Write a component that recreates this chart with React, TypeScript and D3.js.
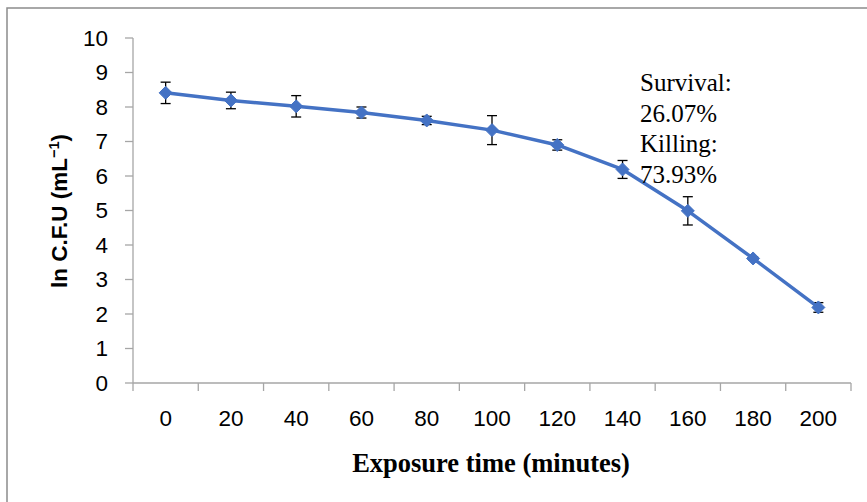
import React from "react";
import * as d3 from "d3";

const categories = ["0", "20", "40", "60", "80", "100", "120", "140", "160", "180", "200"];
const values = [8.41, 8.19, 8.02, 7.84, 7.61, 7.33, 6.9, 6.19, 4.99, 3.61, 2.19];
const errors = [0.31, 0.24, 0.31, 0.16, 0.12, 0.42, 0.15, 0.26, 0.41, 0.05, 0.14];
const yTicks = [0, 1, 2, 3, 4, 5, 6, 7, 8, 9, 10];
const annotation = ["Survival:", "26.07%", "Killing:", "73.93%"];

const W = 867;
const H = 502;
const left = 133;
const right = 851;
const top = 38;
const bottom = 383;

export default function App() {
  const x = d3.scaleBand<string>().domain(categories).range([left, right]).padding(0);
  const y = d3.scaleLinear().domain([0, 10]).range([bottom, top]);
  const cx = (c: string) => (x(c) as number) + x.bandwidth() / 2;
  const line = d3
    .line<number>()
    .x((_, i) => cx(categories[i]))
    .y((v) => y(v));
  const blue = "#4472C4";
  const axisColor = "#A6A6A6";
  const boundaries = d3.range(categories.length + 1).map((k) => left + k * x.bandwidth());
  const dSize = 6.5;
  const capHalf = 5;

  return (
    <svg
      width={W}
      height={H}
      style={{ position: "absolute", left: 0, top: 0, display: "block", background: "#fff" }}
    >
      <rect x={7} y={8} width={W + 20} height={H + 20} fill="#fff" stroke="#8c8c8c" strokeWidth={1.5} />
      {/* y axis */}
      <line x1={left} x2={left} y1={top} y2={bottom} stroke={axisColor} strokeWidth={1.3} />
      {yTicks.map((t) => (
        <g key={"y" + t}>
          <line x1={left - 8} x2={left} y1={y(t)} y2={y(t)} stroke={axisColor} strokeWidth={1.3} />
          <text
            x={108}
            y={y(t)}
            dy="0.35em"
            textAnchor="end"
            fontFamily="'Liberation Sans', Arial, sans-serif"
            fontSize={22.5}
            fill="#000"
          >
            {t}
          </text>
        </g>
      ))}
      {/* x axis */}
      <line x1={left} x2={right} y1={bottom} y2={bottom} stroke={axisColor} strokeWidth={1.3} />
      {boundaries.map((b, i) => (
        <line key={"xb" + i} x1={b} x2={b} y1={bottom} y2={bottom + 8} stroke={axisColor} strokeWidth={1.3} />
      ))}
      {categories.map((c) => (
        <text
          key={"xl" + c}
          x={cx(c)}
          y={426}
          textAnchor="middle"
          fontFamily="'Liberation Sans', Arial, sans-serif"
          fontSize={22.5}
          fill="#000"
        >
          {c}
        </text>
      ))}
      {/* axis titles */}
      <text
        transform={`translate(67, 211) rotate(-90)`}
        textAnchor="middle"
        fontFamily="'Liberation Sans', Arial, sans-serif"
        fontWeight="bold"
        fontSize={22.5}
        fill="#000"
      >
        ln C.F.U (mL<tspan dy={-8} fontSize={14.5}>−1</tspan>
        <tspan dy={8}>)</tspan>
      </text>
      <text
        x={491}
        y={472}
        textAnchor="middle"
        fontFamily="'Liberation Serif', 'Times New Roman', serif"
        fontWeight="bold"
        fontSize={26.5}
        fill="#000"
      >
        Exposure time (minutes)
      </text>
      {/* error bars */}
      {values.map((v, i) => {
        const px = cx(categories[i]);
        return (
          <g key={"e" + i} stroke="#000" strokeWidth={1.3}>
            <line x1={px} x2={px} y1={y(v + errors[i])} y2={y(v - errors[i])} />
            <line x1={px - capHalf} x2={px + capHalf} y1={y(v + errors[i])} y2={y(v + errors[i])} />
            <line x1={px - capHalf} x2={px + capHalf} y1={y(v - errors[i])} y2={y(v - errors[i])} />
          </g>
        );
      })}
      {/* line */}
      <path d={line(values) || ""} fill="none" stroke={blue} strokeWidth={3.5} strokeLinejoin="round" />
      {values.map((v, i) => {
        const px = cx(categories[i]);
        const py = y(v);
        return (
          <path
            key={"m" + i}
            d={`M${px},${py - dSize}L${px + dSize},${py}L${px},${py + dSize}L${px - dSize},${py}Z`}
            fill={blue}
            stroke={blue}
            strokeWidth={1}
          />
        );
      })}
      {/* annotation */}
      {annotation.map((s, i) => (
        <text
          key={"a" + i}
          x={640}
          y={91 + i * 30.5}
          fontFamily="'Liberation Serif', 'Times New Roman', serif"
          fontSize={25}
          fill="#000"
        >
          {s}
        </text>
      ))}
    </svg>
  );
}
